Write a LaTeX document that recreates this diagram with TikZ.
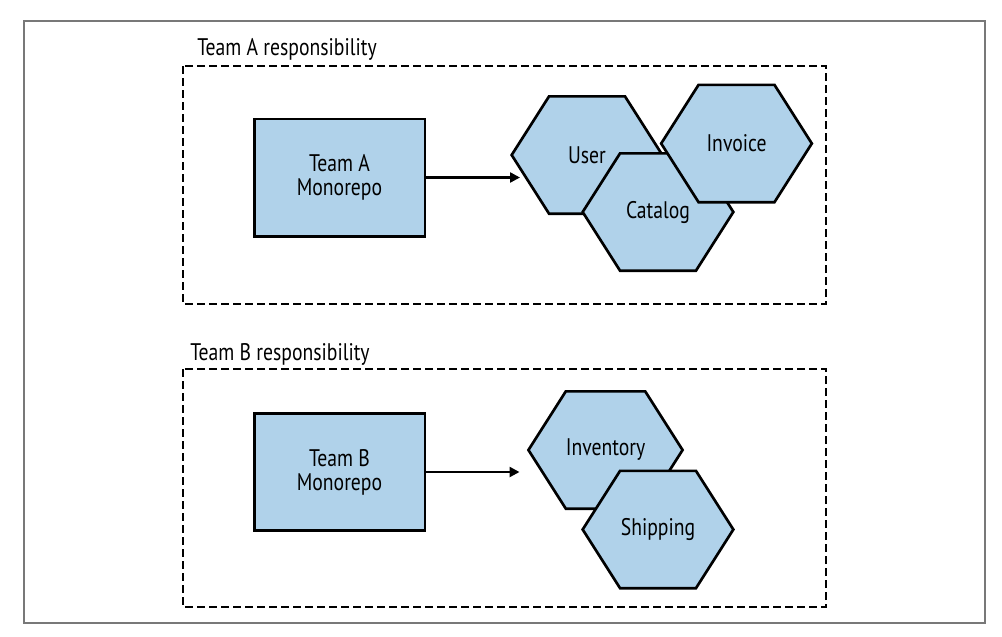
\documentclass[tikz,border=0pt]{standalone}
\usepackage{fontspec}
\setmainfont{PT Sans}[FakeStretch=0.82]
\usepackage{xcolor}
\usepackage{tikz}
\usetikzlibrary{arrows.meta, positioning, shapes.symbols}

\definecolor{svcblue}{RGB}{176,210,234}
\definecolor{framegray}{RGB}{120,120,120}

\tikzset{
  repobox/.style={draw=black, line width=2pt, fill=svcblue, minimum width=128pt, minimum height=88pt,
    align=center, font=\fontsize{18}{18}\selectfont},
  svchex/.style={signal, signal to=east and west, signal pointer angle=115, draw=black, line width=2pt,
    fill=svcblue, minimum width=113pt, minimum height=88pt, inner sep=0pt, font=\fontsize{18}{18}\selectfont},
  zone/.style={draw=black, line width=1.8pt, dash pattern=on 6pt off 3pt},
  zonelabel/.style={anchor=base west, inner sep=0pt, font=\fontsize{18}{18}\selectfont},
  flow/.style={line width=1.8pt, -{Triangle[length=7.5pt,width=7.5pt]}},
}

\begin{document}
\begin{tikzpicture}[x=0.75pt, y=-0.75pt]
\useasboundingbox (0,0) rectangle (1002,636);

% Cadru exterior
\draw[framegray, line width=1pt] (24,21) rectangle (985,623);

% Zona echipei A
\draw[zone] (183,66) rectangle (826,304);
\node[zonelabel] (labelA) at (197,55) {Team A responsibility};
\node[repobox] (repoA) at (339.5,177.5) {Team A\\Monorepo};
\node[svchex] (user) at (587,155) {User};
\node[svchex] (catalog) at (658,212) {Catalog};
\node[svchex] (invoice) at (736.5,143.5) {Invoice};
\coordinate (tipA) at (520,177.5);
\draw[flow] (repoA) -- (tipA);

% Zona echipei B
\draw[zone] (183,369) rectangle (826,607);
\node[zonelabel] (labelB) at (190,360) {Team B responsibility};
\node[repobox] (repoB) at (339.5,472) {Team B\\Monorepo};
\node[svchex] (inventory) at (605.5,450) {Inventory};
\node[svchex] (shipping) at (658,529.5) {Shipping};
\coordinate (tipB) at (519.5,472);
\draw[flow] (repoB) -- (tipB);

\end{tikzpicture}
\end{document}
